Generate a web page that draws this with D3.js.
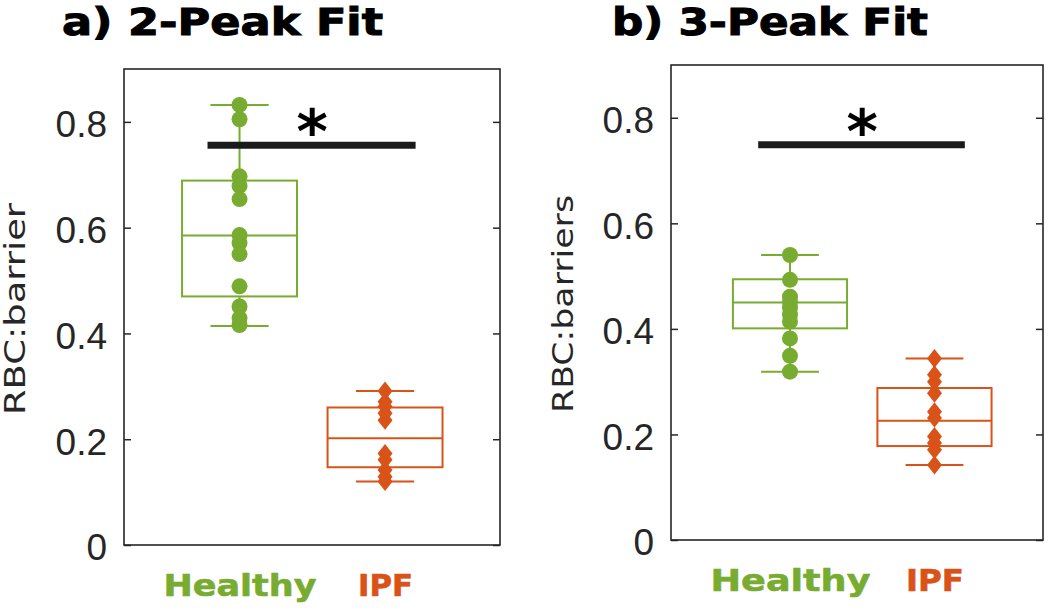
<!DOCTYPE html>
<html>
<head>
<meta charset="utf-8">
<script src="https://cdn.jsdelivr.net/npm/d3@7"></script>
<style>
  html, body { margin: 0; padding: 0; background: #fff; }
  svg { display: block; }
</style>
</head>
<body>
<svg id="chart" width="1050" height="610"></svg>
<script>
// ---------------- data ----------------
const categories = ["Healthy", "IPF"];
const yTickValues = [0, 0.2, 0.4, 0.6, 0.8];
const yTickLabels = ["0", "0.2", "0.4", "0.6", "0.8"];
const panelTitles = ["a) 2-Peak Fit", "b) 3-Peak Fit"];
const yAxisLabels = ["RBC:barrier", "RBC:barriers"];

// individual subjects
const healthy2Peak = [0.832, 0.805, 0.697, 0.679, 0.654, 0.586, 0.571, 0.550, 0.489, 0.451, 0.429, 0.416];
const ipf2Peak     = [0.291, 0.271, 0.262, 0.249, 0.236, 0.173, 0.161, 0.142, 0.129, 0.120];
const healthy3Peak = [0.540, 0.493, 0.461, 0.452, 0.440, 0.427, 0.414, 0.382, 0.349, 0.319];
const ipf3Peak     = [0.344, 0.313, 0.300, 0.278, 0.243, 0.231, 0.196, 0.184, 0.171, 0.142];

// box summaries: [lower whisker, q1, median, q3, upper whisker]
const healthy2Box = [0.414, 0.470, 0.585, 0.689, 0.832];
const ipf2Box     = [0.120, 0.147, 0.202, 0.260, 0.291];
const healthy3Box = [0.319, 0.401, 0.450, 0.494, 0.540];
const ipf3Box     = [0.142, 0.178, 0.226, 0.288, 0.344];

// significance bar level
const sigLevels = [0.756, 0.749];
const sigLabel = "*";

// ---------------- style / layout ----------------
const colors = { Healthy: "#77AC30", IPF: "#D95319" };
const axisColor = "#262626";

const panels = [
  {
    title: panelTitles[0], yLabel: yAxisLabels[0],
    series: [ { cat: categories[0], pts: healthy2Peak, box: healthy2Box },
              { cat: categories[1], pts: ipf2Peak, box: ipf2Box } ],
    sig: sigLevels[0],
    left: 124, right: 500, top: 69, bottom: 545, xDomain: [0.206, 2.79],
    titleX: 62, titleY: 35, titleLen: 321,
    yLabX: 25, yLabY: 309, yLabLen: 212,
    xLabLens: [153, 55]
  },
  {
    title: panelTitles[1], yLabel: yAxisLabels[1],
    series: [ { cat: categories[0], pts: healthy3Peak, box: healthy3Box },
              { cat: categories[1], pts: ipf3Peak, box: ipf3Box } ],
    sig: sigLevels[1],
    left: 671, right: 1043, top: 65, bottom: 540, xDomain: [0.1765, 2.751],
    titleX: 612, titleY: 35, titleLen: 316,
    yLabX: 573, yLabY: 304, yLabLen: 218,
    xLabLens: [160, 58]
  }
];

const boxWidth = 0.79;   // in category units
const capWidth = 0.40;
const sigSpan = [0.78, 2.21];

const svg = d3.select("#chart");

panels.forEach(p => {
  const x = d3.scaleLinear().domain(p.xDomain).range([p.left, p.right]);
  const y = d3.scaleLinear().domain([0, 0.9]).range([p.bottom, p.top]);
  const g = svg.append("g");

  // title
  g.append("text")
    .attr("x", p.titleX).attr("y", p.titleY)
    .attr("font-family", "DejaVu Sans").attr("font-weight", "bold")
    .attr("font-size", 37).attr("fill", "#000")
    .attr("stroke", "#000").attr("stroke-width", 1)
    .attr("textLength", p.titleLen).attr("lengthAdjust", "spacingAndGlyphs")
    .text(p.title);

  // left axis (ticks inward, labels)
  const yAxisL = d3.axisLeft(y).tickValues(yTickValues)
    .tickFormat((d, i) => yTickLabels[i]).tickSizeInner(-7).tickSizeOuter(0).tickPadding(17);
  const gl = g.append("g").attr("transform", `translate(${p.left},0)`).call(yAxisL);
  gl.select(".domain").remove();
  gl.selectAll(".tick line").attr("stroke", axisColor).attr("stroke-width", 1.5);
  gl.selectAll(".tick text").attr("fill", axisColor)
    .attr("font-family", "Liberation Sans, Arial, sans-serif").attr("font-size", 37)
    .attr("dy", "0.40em");

  // right axis (ticks only)
  const yAxisR = d3.axisRight(y).tickValues(yTickValues).tickFormat("").tickSizeInner(-7).tickSizeOuter(0);
  const gr = g.append("g").attr("transform", `translate(${p.right},0)`).call(yAxisR);
  gr.select(".domain").remove();
  gr.selectAll(".tick line").attr("stroke", axisColor).attr("stroke-width", 1.5);

  // frame
  g.append("rect")
    .attr("x", p.left).attr("y", p.top)
    .attr("width", p.right - p.left).attr("height", p.bottom - p.top)
    .attr("fill", "none").attr("stroke", axisColor).attr("stroke-width", 1.6);

  // y label
  g.append("text")
    .attr("transform", `translate(${p.yLabX},${p.yLabY}) rotate(-90)`)
    .attr("text-anchor", "middle")
    .attr("font-family", "DejaVu Sans").attr("font-size", 28).attr("fill", axisColor)
    .attr("textLength", p.yLabLen).attr("lengthAdjust", "spacingAndGlyphs")
    .text(p.yLabel);

  // x category labels
  const xAxis = d3.axisBottom(x).tickValues([1, 2]).tickFormat((d, i) => categories[i]).tickSize(0).tickPadding(0);
  const gx = g.append("g").attr("transform", `translate(0,${p.bottom})`).call(xAxis);
  gx.select(".domain").remove();
  gx.selectAll(".tick text")
    .attr("y", 51).attr("dy", 0)
    .attr("font-family", "DejaVu Sans").attr("font-weight", "bold").attr("font-size", 31)
    .attr("fill", (d, i) => colors[categories[i]])
    .attr("stroke", (d, i) => colors[categories[i]]).attr("stroke-width", 0.6)
    .attr("textLength", (d, i) => p.xLabLens[i]).attr("lengthAdjust", "spacingAndGlyphs");

  // boxes
  p.series.forEach((s, i) => {
    const cx = i + 1;
    const col = colors[s.cat];
    const [lo, q1, med, q3, hi] = s.box;
    const bg = g.append("g").attr("stroke", col).attr("stroke-width", 2).attr("fill", "none");
    bg.append("rect")
      .attr("x", x(cx - boxWidth / 2)).attr("y", y(q3))
      .attr("width", x(cx + boxWidth / 2) - x(cx - boxWidth / 2))
      .attr("height", y(q1) - y(q3));
    bg.append("line").attr("x1", x(cx - boxWidth / 2)).attr("x2", x(cx + boxWidth / 2))
      .attr("y1", y(med)).attr("y2", y(med));
    bg.append("line").attr("x1", x(cx)).attr("x2", x(cx)).attr("y1", y(q3)).attr("y2", y(hi));
    bg.append("line").attr("x1", x(cx)).attr("x2", x(cx)).attr("y1", y(q1)).attr("y2", y(lo));
    [lo, hi].forEach(v => {
      bg.append("line").attr("x1", x(cx - capWidth / 2)).attr("x2", x(cx + capWidth / 2))
        .attr("y1", y(v)).attr("y2", y(v));
    });

    // points
    if (s.cat === "Healthy") {
      g.selectAll(null).data(s.pts).enter().append("circle")
        .attr("cx", x(cx)).attr("cy", d => y(d)).attr("r", 8)
        .attr("fill", col);
    } else {
      g.selectAll(null).data(s.pts).enter().append("path")
        .attr("d", d => {
          const px = x(cx), py = y(d);
          return `M${px},${py - 9.5}L${px + 7.5},${py}L${px},${py + 9.5}L${px - 7.5},${py}Z`;
        })
        .attr("fill", col);
    }
  });

  // significance bar
  g.append("line")
    .attr("x1", x(sigSpan[0])).attr("x2", x(sigSpan[1]))
    .attr("y1", y(p.sig)).attr("y2", y(p.sig))
    .attr("stroke", "#1a1a1a").attr("stroke-width", 7);
  g.append("text")
    .attr("x", x(1.5)).attr("y", y(p.sig) + 8)
    .attr("text-anchor", "middle")
    .attr("font-family", "DejaVu Sans").attr("font-weight", "bold").attr("font-size", 60)
    .attr("fill", "#000")
    .text(sigLabel);
});
</script>
</body>
</html>
